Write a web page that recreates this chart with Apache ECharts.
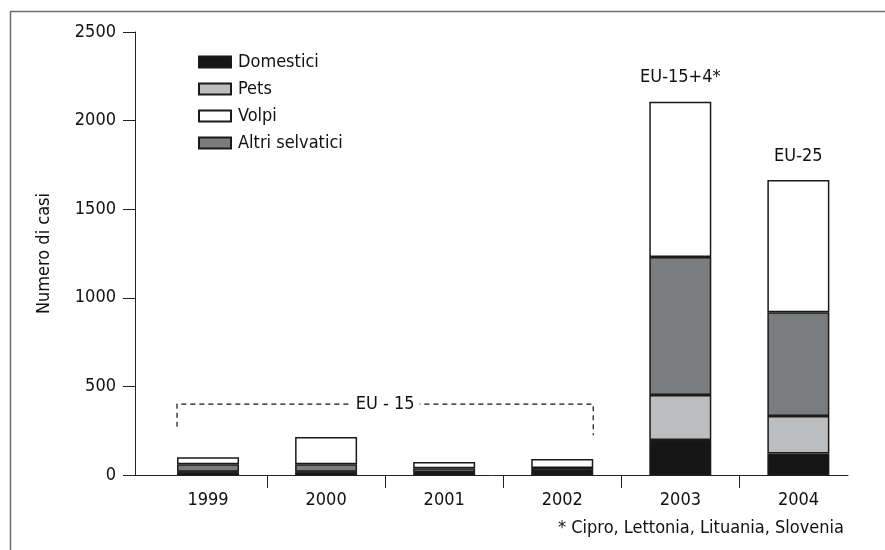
<!DOCTYPE html>
<html>
<head>
<meta charset="utf-8">
<script src="https://cdn.jsdelivr.net/npm/echarts@6/dist/echarts.min.js"></script>
<style>
  html, body { margin: 0; padding: 0; background: #fff; }
  #chart { width: 885px; height: 550px; }
</style>
</head>
<body>
<div id="chart"></div>
<script>
// dati
const years = ['1999', '2000', '2001', '2002', '2003', '2004']
const domestici = [15, 15, 12, 18, 197, 122]
const pets = [3, 3, 3, 3, 254, 211]
const altriSelvatici = [42, 42, 23, 19, 779, 585]
const volpi = [40, 154, 35, 50, 877, 747]
const topNotes = ['', '', '', '', 'EU-15+4*', 'EU-25']
// parentesi EU-15: anno inizio, anno fine, quota, fondo sinistro, fondo destro
const bracket = [['1999', '2002', 400, 272, 225]]

const FONT = "'DejaVu Sans Condensed', 'DejaVu Sans', sans-serif"
const BAR_WIDTH = 62
const EDGE = '#1a1a1a'
const AXIS = '#222'

const barSeries = (name, values, color, notes) => ({
  name: name,
  type: 'bar',
  stack: 'casi',
  xAxisIndex: 0,
  yAxisIndex: 0,
  barWidth: BAR_WIDTH,
  data: values.map((v, i) => {
    const item = { value: v }
    if (notes && notes[i]) {
      item.label = { show: true, formatter: notes[i] }
    }
    return item
  }),
  itemStyle: { color: color, borderColor: EDGE, borderWidth: 1.5 },
  label: {
    show: false,
    position: 'top',
    distance: 15,
    color: '#111',
    fontFamily: FONT,
    fontSize: 18
  },
  emphasis: { disabled: true }
})

const chart = echarts.init(document.getElementById('chart'))

const option = {
  animation: false,
  textStyle: { fontFamily: FONT },
  title: {
    text: '* Cipro, Lettonia, Lituania, Slovenia',
    right: 36,
    top: 514,
    textStyle: { fontFamily: FONT, fontSize: 18, fontWeight: 'normal', color: '#111' }
  },
  graphic: [
    {
      type: 'rect',
      left: 8,
      top: 9,
      silent: true,
      shape: { width: 900, height: 600 },
      style: { fill: 'none', stroke: '#6e6e6e', lineWidth: 1.5 }
    }
  ],
  legend: {
    data: ['Domestici', 'Pets', 'Volpi', 'Altri selvatici'],
    orient: 'vertical',
    left: 193,
    top: 48,
    icon: 'rect',
    itemWidth: 32,
    itemHeight: 11,
    itemGap: 9,
    selectedMode: false,
    textStyle: { fontFamily: FONT, fontSize: 18, color: '#111', padding: [0, 0, 0, 2] }
  },
  grid: [
    // griglia delle barre
    { left: 149, right: 27.6, top: 32, bottom: 75 },
    // griglia degli assi visibili
    { left: 135, right: 37, top: 32, bottom: 75 }
  ],
  xAxis: [
    {
      type: 'category',
      gridIndex: 0,
      data: years,
      show: false
    },
    {
      type: 'value',
      gridIndex: 1,
      min: -0.618,
      max: 5.419,
      splitLine: { show: false },
      axisLine: { show: true, lineStyle: { color: AXIS, width: 1 } },
      axisTick: {
        show: true,
        length: 13,
        customValues: [0.5, 1.5, 2.5, 3.5, 4.5],
        lineStyle: { color: AXIS }
      },
      axisLabel: {
        customValues: [0, 1, 2, 3, 4, 5],
        formatter: (v) => years[Math.round(v)],
        margin: 16,
        fontFamily: FONT,
        fontSize: 18,
        color: '#111'
      }
    }
  ],
  yAxis: [
    {
      type: 'value',
      gridIndex: 0,
      min: 0,
      max: 2500,
      show: false
    },
    {
      type: 'value',
      gridIndex: 1,
      min: 0,
      max: 2500,
      interval: 500,
      name: 'Numero di casi',
      nameLocation: 'middle',
      nameGap: 82,
      nameTextStyle: { fontFamily: FONT, fontSize: 18, color: '#111' },
      splitLine: { show: false },
      axisLine: { show: true, onZero: false, lineStyle: { color: AXIS, width: 1 } },
      axisTick: { show: true, length: 12, lineStyle: { color: AXIS } },
      axisLabel: {
        margin: 19,
        fontFamily: FONT,
        fontSize: 18,
        color: '#111',
        formatter: (v) => String(v)
      }
    }
  ],
  series: [
    barSeries('Domestici', domestici, '#161616'),
    barSeries('Pets', pets, '#bcbdbf'),
    barSeries('Altri selvatici', altriSelvatici, '#7b7c7e'),
    barSeries('Volpi', volpi, '#ffffff', topNotes),
    {
      name: 'EU-15',
      type: 'custom',
      xAxisIndex: 0,
      yAxisIndex: 0,
      silent: true,
      data: bracket,
      encode: { x: [0, 1], y: [2, 3, 4] },
      renderItem: (params, api) => {
        const half = BAR_WIDTH / 2
        const left = api.coord([api.value(0), api.value(2)])
        const right = api.coord([api.value(1), api.value(2)])
        const leftBottom = api.coord([api.value(0), api.value(3)])
        const rightBottom = api.coord([api.value(1), api.value(4)])
        const xl = left[0] - half
        const xr = right[0] + half
        const y = left[1]
        return {
          type: 'group',
          children: [
            {
              type: 'polyline',
              shape: { points: [[xl, leftBottom[1]], [xl, y], [xr, y], [xr, rightBottom[1]]] },
              style: { fill: 'none', stroke: '#111', lineWidth: 1.2, lineDash: [5, 4] }
            },
            {
              type: 'text',
              x: (xl + xr) / 2,
              y: y,
              style: {
                text: 'EU - 15',
                fontFamily: FONT,
                fontSize: 18,
                fill: '#111',
                align: 'center',
                verticalAlign: 'middle',
                backgroundColor: '#fff',
                padding: [0, 5]
              }
            }
          ]
        }
      }
    }
  ]
}

chart.setOption(option)
</script>
</body>
</html>
